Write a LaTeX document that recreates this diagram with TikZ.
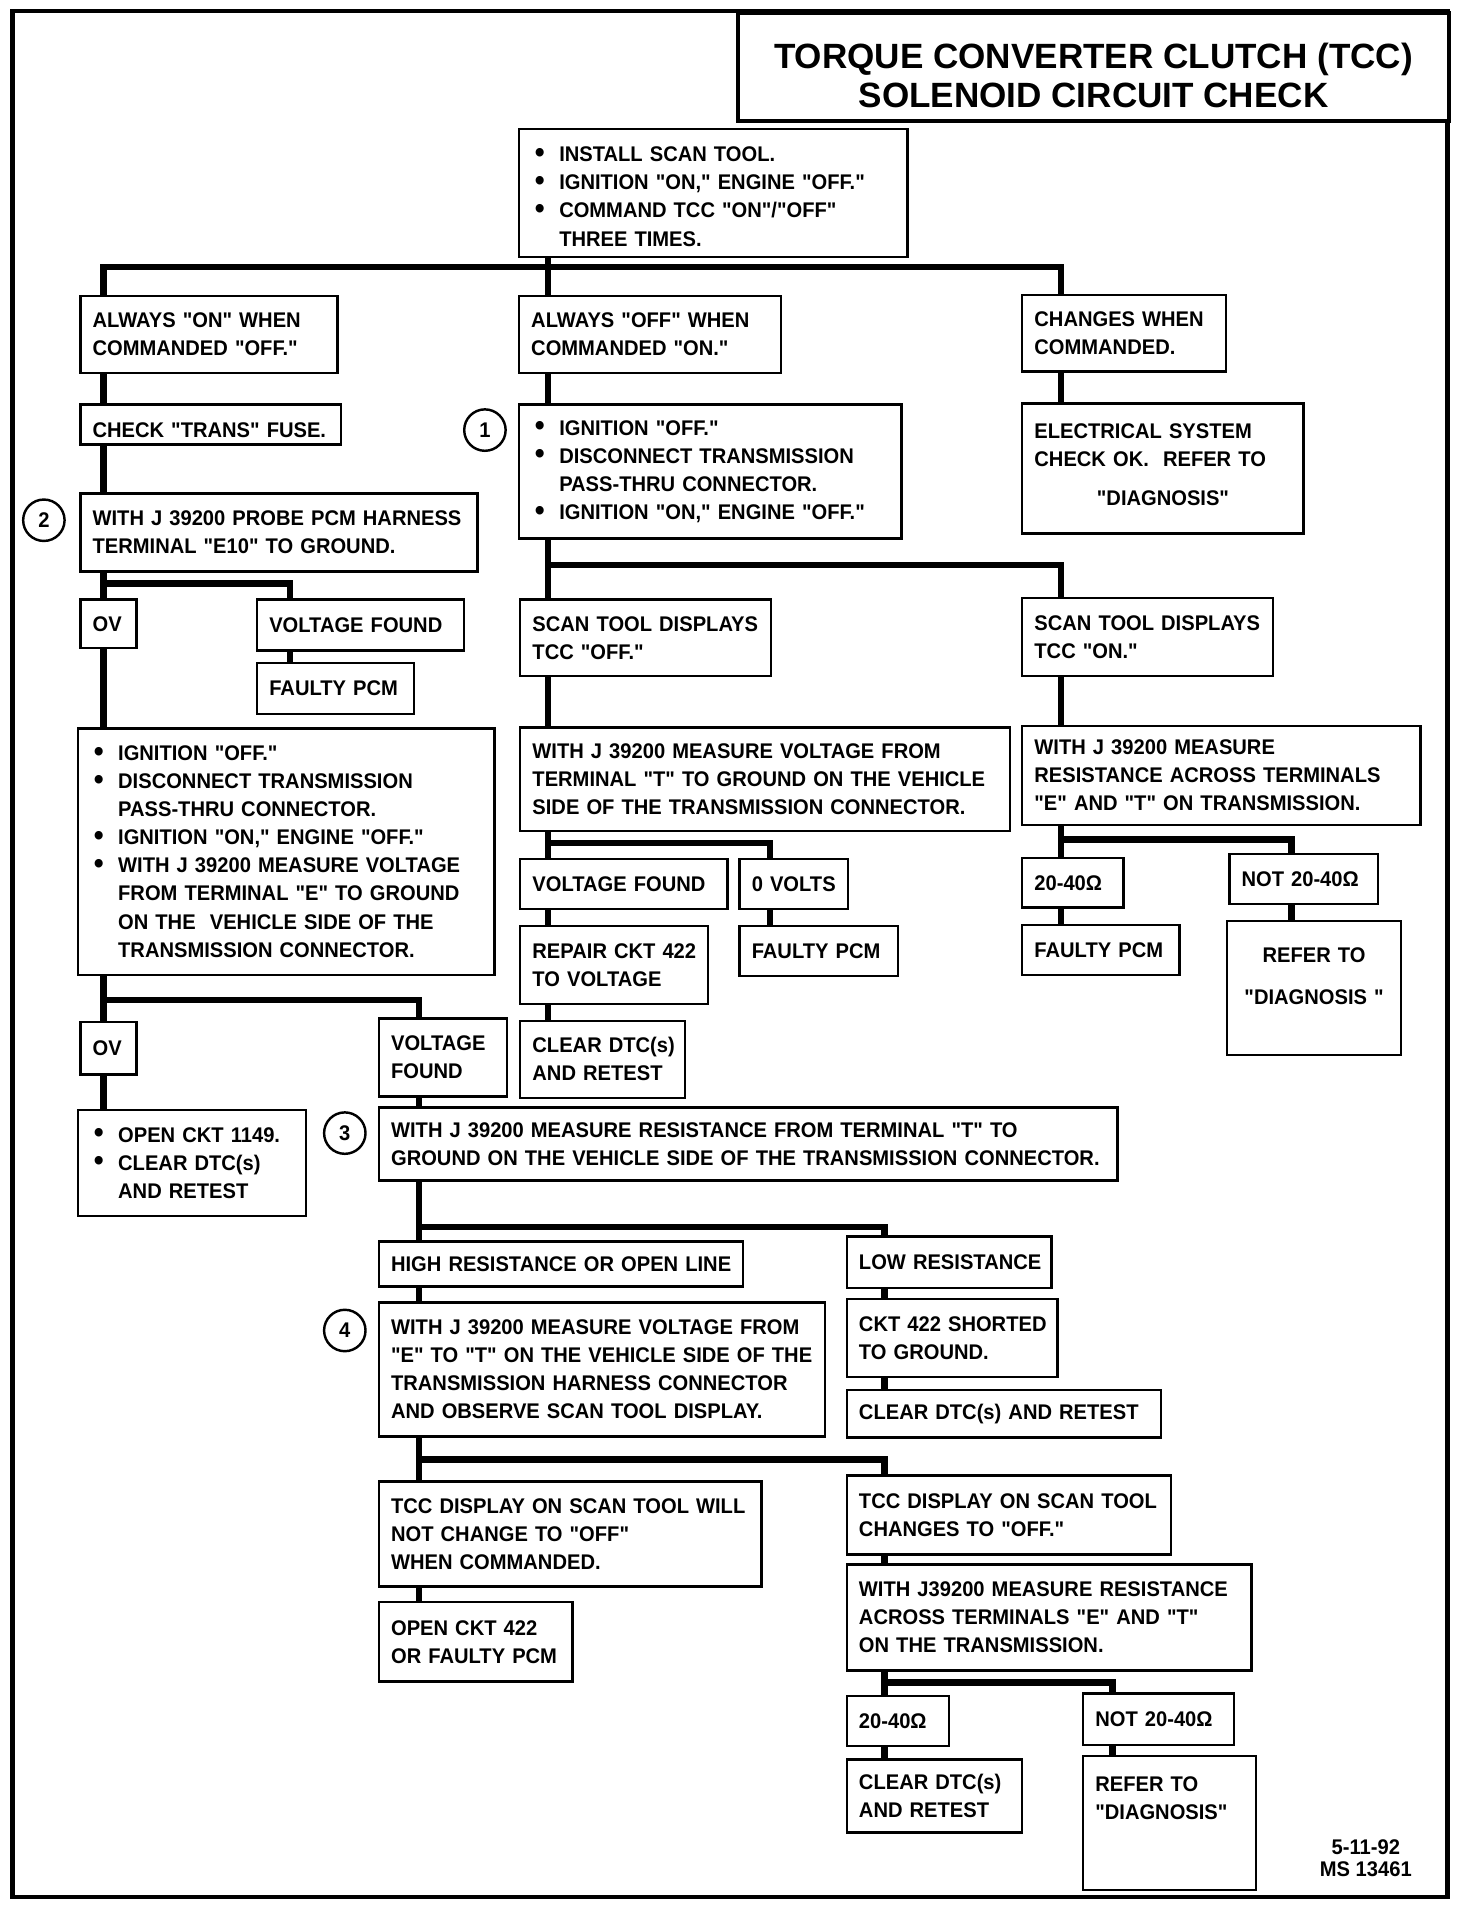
\documentclass[tikz,border=0pt]{standalone}
\usepackage{fontspec}
\setmainfont{Liberation Sans}[Ligatures=TeXOff]
\newfontfamily\bodyfam{Liberation Sans}[FakeStretch=0.95, Ligatures=TeXOff]
\newcommand\bodyfont{\bodyfam\bfseries\fontsize{8.7pt}{11.5pt}\selectfont}
\newcommand\titlefont{\bfseries\fontsize{14.4pt}{16pt}\selectfont}
\newcommand\lx[1]{\mbox{#1}}
\newcommand\bdot{\raisebox{-0.3pt}{\scalebox{1.4}{\textbullet}}}
\newcommand\bl[1]{\mbox{\hspace*{1.5pt}\makebox[10pt][l]{\bdot}#1}}
\newcommand\ct[1]{\mbox{\hspace*{11.5pt}#1}}
\tikzset{
  cbox/.style={draw, line width=1pt, fill=white, inner xsep=5pt, inner ysep=0pt, align=left, font=\bodyfont},
  conn/.style={line width=2.6pt, line join=miter, line cap=butt},
  num/.style={circle, draw, line width=1pt, minimum size=17pt, inner sep=0pt, font=\bodyfont},
}
\newcommand\bx[7][]{%
  \pgfmathsetlengthmacro\bxw{(#5-#3)*0.5pt}%
  \pgfmathsetlengthmacro\bxh{(#6-#4)*0.5pt}%
  \pgfmathsetlengthmacro\bxt{(#5-#3)*0.5pt-10pt}%
  \node[cbox, anchor=north west, minimum width=\bxw, minimum height=\bxh, text width=\bxt, #1] (#2) at (#3,#4) {#7};}
\begin{document}
\begin{tikzpicture}[x=0.5pt,y=-0.5pt]
\fill[white] (0,0) rectangle (1208,1566);
\useasboundingbox (0,0) rectangle (1208,1566);
% outer frame
\draw[line width=2pt] (10,9) rectangle (1188,1557);
\node[draw, line width=1.5pt, fill=white, anchor=north west, minimum width=292pt, minimum height=44.5pt, align=center, font=\titlefont, inner sep=0pt] (title) at (604,9)
  {\rule{0pt}{17.5pt}TORQUE CONVERTER CLUTCH (TCC)\\SOLENOID CIRCUIT CHECK};

% column x positions
\coordinate (xA) at (85,0);
\coordinate (xB) at (450,0);
\coordinate (xC) at (871,0);
\coordinate (xD) at (238,0);
\coordinate (xE) at (344,0);
\coordinate (xF) at (726,0);
\coordinate (xG) at (632,0);
\coordinate (xH) at (1060,0);
\coordinate (xI) at (913,0);

% boxes
\bx{start}{425}{105}{744}{210}{\bl{\rule{0pt}{9pt}INSTALL SCAN TOOL.}\\\bl{IGNITION "ON," ENGINE "OFF."}\\\bl{COMMAND TCC "ON"/"OFF"}\\\ct{THREE TIMES.}}
\bx{aon}{65}{242}{276}{305}{\lx{ALWAYS "ON" WHEN}\\\lx{COMMANDED "OFF."}}
\bx{aoff}{425}{242}{640}{305}{\lx{ALWAYS "OFF" WHEN}\\\lx{COMMANDED "ON."}}
\bx{chg}{838}{241}{1005}{304}{\lx{CHANGES WHEN}\\\lx{COMMANDED.}}
\bx{fuse}{65}{331}{279}{364}{\lx{\rule{0pt}{10.8pt}CHECK "TRANS" FUSE.}}
\bx{ign1}{425}{331}{739}{441}{\bl{IGNITION "OFF."}\\\bl{DISCONNECT TRANSMISSION}\\\ct{PASS-THRU CONNECTOR.}\\\bl{IGNITION "ON," ENGINE "OFF."}}
\bx{elec}{838}{330}{1069}{437}{\lx{ELECTRICAL SYSTEM}\\\lx{CHECK OK.\ \ REFER TO}\\[4.5pt]\makebox[\hsize]{"DIAGNOSIS"}\\[-8pt]\mbox{}}
\bx{probe}{65}{404}{391}{468}{\lx{WITH J 39200 PROBE PCM HARNESS}\\\lx{TERMINAL "E10" TO GROUND.}}
\bx{ov1}{65}{491}{111}{531}{\lx{OV}}
\bx{vf1}{210}{491}{380}{533}{\lx{VOLTAGE FOUND}}
\bx{fpcm1}{210}{543}{339}{585}{\lx{FAULTY PCM}}
\bx{big}{63}{597}{405}{799}{\bl{IGNITION "OFF."}\\\bl{DISCONNECT TRANSMISSION}\\\ct{PASS-THRU CONNECTOR.}\\\bl{IGNITION "ON," ENGINE "OFF."}\\\bl{WITH J 39200 MEASURE VOLTAGE}\\\ct{FROM TERMINAL "E" TO GROUND}\\\ct{ON THE\ \ VEHICLE SIDE OF THE}\\\ct{TRANSMISSION CONNECTOR.}}
\bx{soff}{426}{491}{632}{554}{\lx{SCAN TOOL DISPLAYS}\\\lx{TCC "OFF."}}
\bx{son}{838}{490}{1044}{554}{\lx{SCAN TOOL DISPLAYS}\\\lx{TCC "ON."}}
\bx{measv}{426}{596}{828}{681}{\lx{WITH J 39200 MEASURE VOLTAGE FROM}\\\lx{TERMINAL "T" TO GROUND ON THE VEHICLE}\\\lx{SIDE OF THE TRANSMISSION CONNECTOR.}}
\bx{measr}{838}{595}{1165}{676}{\lx{WITH J 39200 MEASURE}\\\lx{RESISTANCE ACROSS TERMINALS}\\\lx{"E" AND "T" ON TRANSMISSION.}}
\bx{vf3}{426}{704}{596}{745}{\lx{VOLTAGE FOUND}}
\bx{zv}{606}{704}{695}{745}{\lx{0 VOLTS}}
\bx{rep}{426}{759}{580}{823}{\lx{REPAIR CKT 422}\\\lx{TO VOLTAGE}}
\bx{fpcm2}{606}{759}{736}{800}{\lx{FAULTY PCM}}
\bx{clr1}{426}{837}{561}{900}{\lx{CLEAR DTC(s)}\\\lx{AND RETEST}}
\bx{r20a}{838}{703}{921}{744}{\lx{20-40Ω}}
\bx{nr20a}{1008}{700}{1130}{741}{\lx{NOT 20-40Ω}}
\bx{fpcm3}{838}{758}{967}{799}{\lx{FAULTY PCM}}
\bx[align=center]{ref1}{1006}{755}{1149}{865}{\lx{REFER TO}\\[5.5pt]\lx{"DIAGNOSIS "}\\[-1.5pt]\mbox{}}
\bx{ov2}{65}{838}{111}{881}{\lx{OV}}
\bx{vf2}{310}{835}{415}{899}{\lx{VOLTAGE}\\\lx{FOUND}}
\bx{open1149}{63}{910}{250}{997}{\bl{OPEN CKT 1149.}\\\bl{CLEAR DTC(s)}\\\ct{AND RETEST}}
\bx{meas3}{310}{908}{916}{968}{\lx{WITH J 39200 MEASURE RESISTANCE FROM TERMINAL "T" TO}\\\lx{GROUND ON THE VEHICLE SIDE OF THE TRANSMISSION CONNECTOR.}}
\bx{high}{310}{1018}{609}{1055}{\lx{HIGH RESISTANCE OR OPEN LINE}}
\bx{low}{694}{1014}{862}{1056}{\lx{LOW RESISTANCE}}
\bx{short}{694}{1065}{867}{1129}{\lx{CKT 422 SHORTED}\\\lx{TO GROUND.}}
\bx{clr2}{694}{1140}{952}{1179}{\lx{CLEAR DTC(s) AND RETEST}}
\bx{meas4}{310}{1068}{676}{1178}{\lx{WITH J 39200 MEASURE VOLTAGE FROM}\\\lx{"E" TO "T" ON THE VEHICLE SIDE OF THE}\\\lx{TRANSMISSION HARNESS CONNECTOR}\\\lx{AND OBSERVE SCAN TOOL DISPLAY.}}
\bx{nochg}{310}{1215}{624}{1301}{\lx{TCC DISPLAY ON SCAN TOOL WILL}\\\lx{NOT CHANGE TO "OFF"}\\\lx{WHEN COMMANDED.}}
\bx{open422}{310}{1314}{469}{1379}{\lx{OPEN CKT 422}\\\lx{OR FAULTY PCM}}
\bx{chgoff}{694}{1210}{960}{1275}{\lx{TCC DISPLAY ON SCAN TOOL}\\\lx{CHANGES TO "OFF."}}
\bx{meas5}{694}{1283}{1026}{1370}{\lx{WITH J39200 MEASURE RESISTANCE}\\\lx{ACROSS TERMINALS "E" AND "T"}\\\lx{ON THE TRANSMISSION.}}
\bx{r20b}{694}{1391}{778}{1432}{\lx{20-40Ω}}
\bx{nr20b}{888}{1389}{1012}{1431}{\lx{NOT 20-40Ω}}
\bx{clr3}{694}{1443}{838}{1503}{\lx{CLEAR DTC(s)}\\\lx{AND RETEST}}
\bx{ref2}{888}{1440}{1030}{1550}{\lx{REFER TO}\\\lx{"DIAGNOSIS"}\\[8.5pt]\mbox{}}

% step numbers
\node[num] (c1) at (398,353) {1};
\node[num] (c2) at (36,427) {2};
\node[num] (c3) at (283,930) {3};
\node[num] (c4) at (283,1092) {4};

% date
\node[align=center, font=\bodyfam\bfseries\fontsize{8.7pt}{8.8pt}\selectfont, inner sep=0pt] (date) at (1121,1525) {5-11-92\\MS 13461};

% junction points
\coordinate (j0) at (871,219);
\coordinate (j1) at (450,464);
\coordinate (j2) at (85,479);
\coordinate (j3) at (85,821);
\coordinate (j4) at (344,1007);
\coordinate (j5) at (344,1198);
\coordinate (j6) at (726,1381);
\coordinate (j7) at (450,692);
\coordinate (j8) at (871,689);

% connectors
\draw[conn] (start.south -| xB) -- (aoff.north -| xB);
\draw[conn] (aon.north -| xA) |- (j0) -- (chg.north -| xC);
\draw[conn] (aon.south -| xA) -- (fuse.north -| xA);
\draw[conn] (fuse.south -| xA) -- (probe.north -| xA);
\draw[conn] (probe.south -| xA) -- (ov1.north -| xA);
\draw[conn] (j2) -| (vf1.north -| xD);
\draw[conn] (vf1.south -| xD) -- (fpcm1.north -| xD);
\draw[conn] (ov1.south -| xA) -- (big.north -| xA);
\draw[conn] (big.south -| xA) -- (ov2.north -| xA);
\draw[conn] (j3) -| (vf2.north -| xE);
\draw[conn] (ov2.south -| xA) -- (open1149.north -| xA);
\draw[conn] (vf2.south -| xE) -- (meas3.north -| xE);
\draw[conn] (meas3.south -| xE) -- (high.north -| xE);
\draw[conn] (j4) -| (low.north -| xF);
\draw[conn] (high.south -| xE) -- (meas4.north -| xE);
\draw[conn] (low.south -| xF) -- (short.north -| xF);
\draw[conn] (short.south -| xF) -- (clr2.north -| xF);
\draw[conn] (meas4.south -| xE) -- (nochg.north -| xE);
\draw[conn] (j5) -| (chgoff.north -| xF);
\draw[conn] (nochg.south -| xE) -- (open422.north -| xE);
\draw[conn] (chgoff.south -| xF) -- (meas5.north -| xF);
\draw[conn] (meas5.south -| xF) -- (r20b.north -| xF);
\draw[conn] (j6) -| (nr20b.north -| xI);
\draw[conn] (r20b.south -| xF) -- (clr3.north -| xF);
\draw[conn] (nr20b.south -| xI) -- (ref2.north -| xI);
\draw[conn] (aoff.south -| xB) -- (ign1.north -| xB);
\draw[conn] (ign1.south -| xB) -- (soff.north -| xB);
\draw[conn] (j1) -| (son.north -| xC);
\draw[conn] (soff.south -| xB) -- (measv.north -| xB);
\draw[conn] (measv.south -| xB) -- (vf3.north -| xB);
\draw[conn] (j7) -| (zv.north -| xG);
\draw[conn] (vf3.south -| xB) -- (rep.north -| xB);
\draw[conn] (rep.south -| xB) -- (clr1.north -| xB);
\draw[conn] (zv.south -| xG) -- (fpcm2.north -| xG);
\draw[conn] (chg.south -| xC) -- (elec.north -| xC);
\draw[conn] (son.south -| xC) -- (measr.north -| xC);
\draw[conn] (measr.south -| xC) -- (r20a.north -| xC);
\draw[conn] (j8) -| (nr20a.north -| xH);
\draw[conn] (r20a.south -| xC) -- (fpcm3.north -| xC);
\draw[conn] (nr20a.south -| xH) -- (ref1.north -| xH);
\end{tikzpicture}
\end{document}
